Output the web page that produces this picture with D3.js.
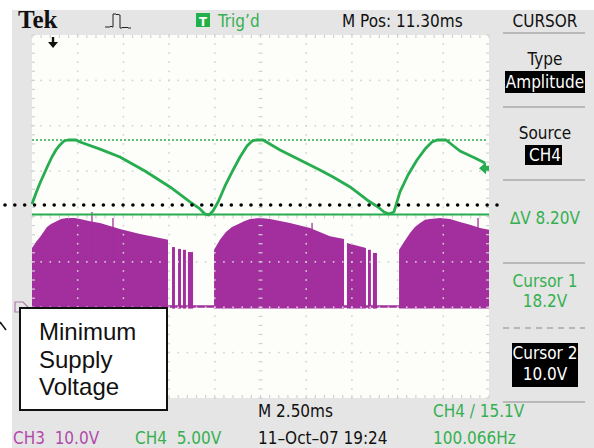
<!DOCTYPE html>
<html>
<head>
<meta charset="utf-8">
<script src="https://cdn.jsdelivr.net/npm/d3@7"></script>
<style>
  body { margin: 0; background: #fff; }
  svg { display: block; }
  .ui { font-family: "Liberation Sans Narrow", "Arial Narrow", "DejaVu Sans Condensed", sans-serif; font-size: 17px; }
</style>
</head>
<body>
<div id="scope"></div>
<script>
// time axis: 10 div x 2.5 ms
var timeDomain = [0, 25];

// CH4 (green) supply voltage trace, [ms, V]
var ch4Trace = [
    [0, 11.16], [0.22, 12.37], [0.44, 13.47], [0.66, 14.46], [0.88, 15.45], [1.09, 16.33],
    [1.31, 17.10], [1.53, 17.65], [1.75, 18.09], [1.97, 18.2], [2.41, 18.2], [2.63, 17.98],
    [3.72, 17.2], [4.81, 16.33], [6.18, 14.79], [7.55, 13.03], [8.64, 11.38], [9.19, 10.61],
    [9.46, 10.06], [9.68, 9.94], [9.90, 10.39], [10.18, 11.38], [10.56, 13.14], [11.0, 14.9],
    [11.38, 16.33], [11.76, 17.54], [12.04, 18.09], [12.25, 18.2], [12.64, 18.2], [13.57, 17.1],
    [14.66, 16.0], [15.75, 14.9], [16.47, 14.13], [17.4, 13.03], [18.33, 11.6], [18.93, 10.83],
    [19.26, 10.28], [19.53, 10.06], [19.8, 10.28], [20.13, 12.48], [20.57, 14.35], [21.06, 16.0],
    [21.5, 17.2], [21.88, 17.98], [22.16, 18.2], [22.65, 18.2], [23.41, 16.99], [24.23, 16.22],
    [24.78, 15.67]
];

// CH3 (purple) switching node envelope blocks, [ms, V]
var ch3Blocks = [
    [[0, 13.0], [0.22, 14.3], [0.44, 15.4], [0.66, 16.7], [0.82, 17.6], [1.04, 18.3], [1.26, 18.7],
     [1.59, 19.4], [1.91, 19.6], [2.35, 19.6], [2.63, 19.4], [3.17, 18.9], [3.72, 18.5], [4.81, 17.2],
     [5.91, 16.1], [6.73, 15.4], [7.44, 14.8]],
    [[9.96, 12.6], [10.28, 14.8], [10.61, 16.5], [10.94, 17.6], [11.21, 18.1], [11.6, 18.9],
     [11.93, 19.4], [12.47, 19.6], [13.02, 19.4], [14.11, 18.5], [15.21, 17.4], [16.3, 15.6], [17.07, 15.0]],
    [[17.23, 14.1], [18.27, 13.0]],
    [[20.08, 12.6], [20.35, 14.3], [20.68, 16.3], [20.95, 17.6], [21.23, 18.5], [21.5, 19.2],
     [21.77, 19.4], [22.32, 19.6], [22.87, 19.4], [23.41, 18.7], [23.96, 18.1], [24.51, 17.4], [25.0, 17.0]]
];
// short bursts: [start ms, end ms, V]
var ch3Bursts = [
    [7.66, 7.82, 13.2], [7.99, 8.15, 12.8], [8.26, 8.42, 12.6], [8.53, 8.81, 12.1],
    [18.38, 18.54, 12.6], [18.65, 18.87, 11.9]
];
// single spikes: [ms, V]
var ch3Spikes = [[3.28, 20.9], [4.43, 19.6], [15.32, 18.5], [24.4, 19.6]];

// cursors and levels (V on CH4)
var cursor1 = 18.2;
var cursor2 = 10.0;
var trigLevel = 15.1;
var minSupply = 11.05;

var topLabels = ["M Pos: 11.30ms", "CURSOR"];
var bottomRow1 = ["M 2.50ms", "CH4 / 15.1V"];
var bottomRow2 = ["CH3  10.0V", "CH4  5.00V", "11\u2013Oct\u201307 19:24", "100.066Hz"];
var noteLines = ["Minimum", "Supply", "Voltage"];

var width = 594, height = 448;
var purple = "#a22f9d", green = "#27ad4f", greenText = "#35b050", bezel = "#e5e5e5";

var svg = d3.select("#scope").append("svg")
    .attr("width", width)
    .attr("height", height);

var plotL = 32, plotR = 489, plotT = 35, plotB = 398;

var x = d3.scaleLinear().domain(timeDomain).range([plotL, plotR]);
var divX = d3.scaleLinear().domain([0, 10]).range([plotL, plotR]);
var divY = d3.scaleLinear().domain([0, 8]).range([plotT, plotB]);
var ch4 = d3.scaleLinear().domain([10, 18.2]).range([214.5, 140]);
var ch3 = d3.scaleLinear().domain([0, 10]).range([307, 261.6]);

//Bezel
svg.append("rect").attr("x", 12).attr("y", 10).attr("width", width - 12).attr("height", height - 10).attr("fill", bezel);
svg.append("rect").attr("x", plotL).attr("y", plotT).attr("width", plotR - plotL).attr("height", plotB - plotT).attr("fill", "#fdfdfa");

//Purple trace
var g3 = svg.append("g");
g3.append("line")
    .attr("x1", plotL).attr("x2", plotR)
    .attr("y1", ch3(0) - 0.5).attr("y2", ch3(0) - 0.5)
    .attr("stroke", purple).attr("stroke-width", 2.5);

var area3 = d3.area()
    .x(function (d) { return x(d[0]); })
    .y0(ch3(-0.35))
    .y1(function (d) { return ch3(d[1]); });

g3.selectAll("path.block")
    .data(ch3Blocks)
    .enter().append("path")
    .attr("class", "block")
    .attr("d", area3)
    .attr("fill", purple);

g3.selectAll("rect.burst")
    .data(ch3Bursts)
    .enter().append("rect")
    .attr("x", function (d) { return x(d[0]); })
    .attr("width", function (d) { return x(d[1]) - x(d[0]); })
    .attr("y", function (d) { return ch3(d[2]); })
    .attr("height", function (d) { return ch3(-0.35) - ch3(d[2]); })
    .attr("fill", purple);

g3.selectAll("line.spike")
    .data(ch3Spikes)
    .enter().append("line")
    .attr("x1", function (d) { return x(d[0]); })
    .attr("x2", function (d) { return x(d[0]); })
    .attr("y1", function (d) { return ch3(d[1]); })
    .attr("y2", ch3(10))
    .attr("stroke", purple).attr("stroke-width", 1.3);

//Graticule
var grid = svg.append("g").attr("fill", "#d2d2d2");
var minorX = d3.range(0, 51).map(function (i) { return i / 5; });
var minorY = d3.range(0, 41).map(function (i) { return i / 5; });

[1, 2, 3, 4, 6, 7, 8, 9].forEach(function (c) {
    grid.selectAll(null).data(minorY).enter().append("rect")
        .attr("x", divX(c) - 0.8).attr("y", function (d) { return divY(d) - 0.8; })
        .attr("width", 1.6).attr("height", 1.6);
});
[1, 2, 3, 5, 6, 7].forEach(function (r) {
    grid.selectAll(null).data(minorX).enter().append("rect")
        .attr("x", function (d) { return divX(d) - 0.8; }).attr("y", divY(r) - 0.8)
        .attr("width", 1.6).attr("height", 1.6);
});
//centre lines with ticks
grid.selectAll(null).data(minorY).enter().append("rect")
    .attr("x", divX(5) - 2).attr("y", function (d) { return divY(d) - 0.6; })
    .attr("width", 4).attr("height", 1.2);
grid.selectAll(null).data(minorX).enter().append("rect")
    .attr("x", function (d) { return divX(d) - 0.6; }).attr("y", divY(4) - 2)
    .attr("width", 1.2).attr("height", 4);
//edge ticks
grid.selectAll(null).data(minorX).enter().append("rect")
    .attr("x", function (d) { return divX(d) - 0.6; }).attr("y", plotT)
    .attr("width", 1.2).attr("height", 3);
grid.selectAll(null).data(minorX).enter().append("rect")
    .attr("x", function (d) { return divX(d) - 0.6; }).attr("y", plotB - 3)
    .attr("width", 1.2).attr("height", 3);
grid.selectAll(null).data(minorY).enter().append("rect")
    .attr("x", plotL).attr("y", function (d) { return divY(d) - 0.6; })
    .attr("width", 3).attr("height", 1.2);
grid.selectAll(null).data(minorY).enter().append("rect")
    .attr("x", plotR - 3).attr("y", function (d) { return divY(d) - 0.6; })
    .attr("width", 3).attr("height", 1.2);

//Cursors
svg.append("line")
    .attr("x1", plotL).attr("x2", plotR - 2)
    .attr("y1", ch4(cursor1)).attr("y2", ch4(cursor1))
    .attr("stroke", green).attr("stroke-width", 1.4).attr("stroke-dasharray", "2,2");
svg.append("line")
    .attr("x1", plotL).attr("x2", plotR)
    .attr("y1", ch4(cursor2)).attr("y2", ch4(cursor2))
    .attr("stroke", green).attr("stroke-width", 1.8);

//Green trace
var line4 = d3.line()
    .x(function (d) { return x(d[0]); })
    .y(function (d) { return ch4(d[1]); });
svg.append("path")
    .datum(ch4Trace)
    .attr("d", line4)
    .attr("fill", "none")
    .attr("stroke", green)
    .attr("stroke-width", 2.8)
    .attr("stroke-linejoin", "round");

//Trigger level marker
var ty = ch4(trigLevel);
svg.append("path")
    .attr("d", "M" + (plotR - 10) + "," + ty + " l7,-6 v3.5 h3 v5 h-3 v3.5 z")
    .attr("fill", green);

//Trigger position marker
svg.append("path")
    .attr("d", "M" + (x(1.15) - 1.2) + ",37 h2.4 v5 h3.8 l-5,6 l-5,-6 h3.8 z")
    .attr("fill", "#111");

//Ground marker
svg.append("path")
    .attr("d", "M15," + (ch3(0) - 5) + " h8 l5,5 l-5,5 h-8 z")
    .attr("fill", "none").attr("stroke", "#b07aa8").attr("stroke-width", 1.2);

//Minimum supply dotted line
var dotX = d3.range(0, 51).map(function (i) { return 5 + i * 9.84; });
svg.append("g").selectAll("circle")
    .data(dotX)
    .enter().append("circle")
    .attr("cx", function (d) { return d; })
    .attr("cy", ch4(minSupply))
    .attr("r", 1.8)
    .attr("fill", "#000");

//Top bar
svg.append("text")
    .attr("x", 18).attr("y", 28)
    .style("font-family", "'Liberation Serif', 'DejaVu Serif', serif")
    .style("font-weight", "bold").style("font-size", "25px")
    .attr("fill", "#111")
    .text("Tek");

svg.append("path")
    .attr("d", "M105,27 h5 l1,-1 l1,1 h1 v-13 h3 l1,1 l1,-1 l1,1 h1 v13 h2 l1,-1 l1,1 l1,-1 l1,1 l1,-1 l1,1 h3")
    .attr("fill", "none").attr("stroke", "#222").attr("stroke-width", 1);

svg.append("rect").attr("x", 196).attr("y", 13).attr("width", 14).attr("height", 14).attr("fill", "#22b04b");
svg.append("text").attr("class", "ui").attr("x", 203).attr("y", 25.5)
    .attr("text-anchor", "middle").attr("fill", "#fff").style("font-size", "13px").style("font-weight", "bold")
    .text("T");
svg.append("text").attr("class", "ui").attr("x", 218).attr("y", 27)
    .attr("fill", greenText).text("Trig\u2019d");

svg.append("text").attr("class", "ui").attr("x", 342).attr("y", 27)
    .attr("fill", "#111").text(topLabels[0]);
svg.append("text").attr("class", "ui").attr("x", 545).attr("y", 27)
    .attr("text-anchor", "middle").attr("fill", "#111").text(topLabels[1]);

//Right side menu
var menu = svg.append("g").attr("class", "ui");
[33, 107, 180, 263, 402].forEach(function (yy) {
    menu.append("line").attr("x1", 503).attr("x2", 585).attr("y1", yy).attr("y2", yy)
        .attr("stroke", "#a8a8a8").attr("stroke-width", 1.3);
});
menu.append("line").attr("x1", 503).attr("x2", 585).attr("y1", 328).attr("y2", 328)
    .attr("stroke", "#a8a8a8").attr("stroke-width", 1.3).attr("stroke-dasharray", "6,5");

function menuText(t, yy, col) {
    menu.append("text").attr("x", 545).attr("y", yy).attr("text-anchor", "middle")
        .attr("fill", col || "#111").text(t);
}
function menuBox(x0, y0, w, h) {
    menu.append("rect").attr("x", x0).attr("y", y0).attr("width", w).attr("height", h).attr("fill", "#000");
}
menuText("Type", 65);
menuBox(505, 71, 80, 22);
menuText("Amplitude", 88, "#fff");
menuText("Source", 139);
menuBox(525, 145, 37, 20);
menuText("CH4", 161, "#fff");
menuText("\u2206V 8.20V", 224, greenText);
menuText("Cursor 1", 287, greenText);
menuText(cursor1.toFixed(1) + "V", 307, greenText);
menuBox(512, 343, 66, 44);
menuText("Cursor 2", 359, "#fff");
menuText(cursor2.toFixed(1) + "V", 380, "#fff");

//Bottom readouts
var foot = svg.append("g").attr("class", "ui");
foot.append("text").attr("x", 258).attr("y", 417).attr("fill", "#111").text(bottomRow1[0]);
foot.append("text").attr("x", 433).attr("y", 417).attr("fill", greenText).text(bottomRow1[1]);
var row2x = [13, 135, 258, 433];
var row2c = ["#b24aaa", greenText, "#111", greenText];
foot.selectAll("text.r2")
    .data(bottomRow2)
    .enter().append("text")
    .attr("class", "r2")
    .attr("x", function (d, i) { return row2x[i]; })
    .attr("y", 444)
    .attr("fill", function (d, i) { return row2c[i]; })
    .style("white-space", "pre")
    .attr("xml:space", "preserve")
    .text(function (d) { return d; });

//Annotation box
svg.append("line").attr("x1", 0).attr("y1", 322).attr("x2", 6).attr("y2", 330)
    .attr("stroke", "#111").attr("stroke-width", 1.5);
svg.append("rect")
    .attr("x", 20).attr("y", 308).attr("width", 147).attr("height", 102)
    .attr("fill", "#fff").attr("stroke", "#111").attr("stroke-width", 2);
svg.append("g").selectAll("text")
    .data(noteLines)
    .enter().append("text")
    .attr("x", 39)
    .attr("y", function (d, i) { return 340 + i * 27.5; })
    .style("font-family", "'Liberation Sans', Arial, sans-serif")
    .style("font-size", "24px")
    .attr("fill", "#111")
    .text(function (d) { return d; });
</script>
</body>
</html>
